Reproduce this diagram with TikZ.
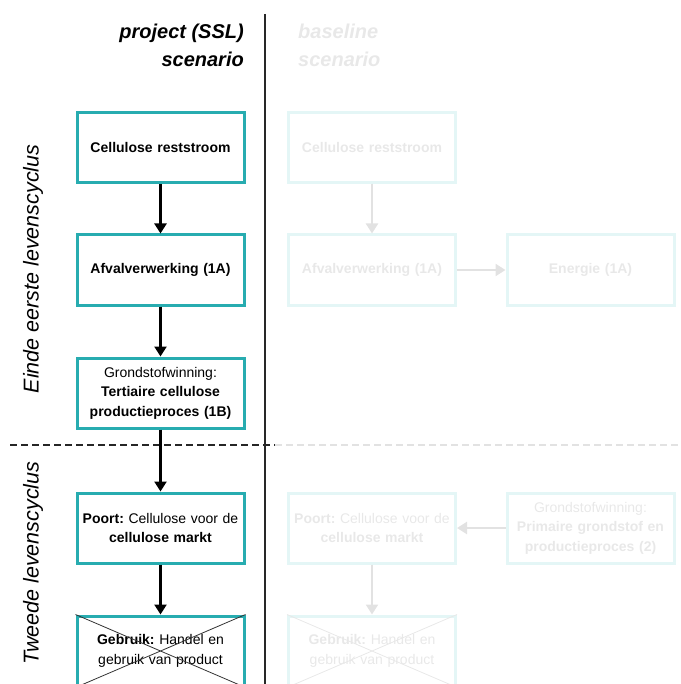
\documentclass[tikz,border=0pt]{standalone}
\usepackage{fontspec}
\setmainfont{Liberation Sans}
\usetikzlibrary{arrows.meta}
\definecolor{teal1}{RGB}{40,172,176}
\definecolor{fadeb}{RGB}{228,246,246}
\definecolor{fadet}{RGB}{232,232,232}
\definecolor{fadea}{RGB}{226,226,226}
\definecolor{divider}{RGB}{40,40,40}
\frenchspacing
\tikzset{
  x=1pt,y=-1pt,
  box/.style={draw=teal1, line width=3pt, minimum width=167pt, minimum height=70pt,
    inner sep=2pt, align=center, text width=162pt, font=\fontsize{14}{19.5}\selectfont},
  fbox/.style={box, draw=fadeb, text=fadet},
  arr/.style={line width=2.3pt, -{Triangle[width=12pt,length=10pt]}},
  farr/.style={arr, draw=fadea, fill=fadea},
  ttl/.style={font=\fontsize{20}{28}\selectfont\bfseries\itshape},
  side/.style={font=\fontsize{21.5}{24}\selectfont\itshape, rotate=90},
}
\begin{document}
\begin{tikzpicture}
\useasboundingbox (0,0) rectangle (680,684);
\begin{scope}
\clip (0,0) rectangle (680,684);
% titles
\node[ttl, anchor=east, align=right, inner sep=0] (t1) at (244,45) {project (SSL)\\scenario};
\node[ttl, anchor=west, align=left, inner sep=0, text=fadet] (t2) at (298,45) {baseline\\scenario};
% side labels
\node[side] (s1) at (33,269) {Einde eerste levenscyclus};
\node[side] (s2) at (33,563) {Tweede levenscyclus};
% divider lines
\coordinate (v1) at (265,14);
\coordinate (v2) at (265,684);
\draw[divider, line width=2pt] (v1) -- (v2);
\coordinate (d1) at (10,445);
\coordinate (d2) at (275,445);
\coordinate (d3) at (680,445);
\draw[dash pattern=on 7pt off 4pt, line width=1.3pt, black!85] (d1) -- (d2);
\draw[dash pattern=on 7pt off 4pt, line width=1.3pt, fadea] (d2) -- (d3);
% left column
\node[box] (a1) at (160.5,147.5) {\bfseries Cellulose reststroom};
\node[box] (a2) at (160.5,270) {\bfseries Afvalverwerking (1A)};
\node[box] (a3) at (160.5,393) {Grondstofwinning:\\\bfseries Tertiaire cellulose\\\bfseries productieproces (1B)};
\node[box] (a4) at (160.5,528) {\textbf{Poort:} Cellulose voor de\\\textbf{cellulose markt}};
\node[box] (a5) at (160.5,651) {\textbf{Gebruik:} Handel en\\gebruik van product};
\draw[black!80, line width=0.8pt] (a5.north west) -- (a5.south east) (a5.north east) -- (a5.south west);
\draw[arr] (a1.south) -- (a2.north);
\draw[arr] (a2.south) -- (a3.north);
\draw[arr] (a3.south) -- (a4.north);
\draw[arr] (a4.south) -- (a5.north);
% right (baseline) column
\node[fbox] (b1) at (372,147.5) {\bfseries Cellulose reststroom};
\node[fbox] (b2) at (372,270) {\bfseries Afvalverwerking (1A)};
\node[fbox] (b3) at (590.5,270) {\bfseries Energie (1A)};
\node[fbox] (b4) at (372,528) {\textbf{Poort:} Cellulose voor de\\\textbf{cellulose markt}};
\node[fbox] (b5) at (590.5,528) {Grondstofwinning:\\\bfseries Primaire grondstof en\\\bfseries productieproces (2)};
\node[fbox] (b6) at (372,651) {\textbf{Gebruik:} Handel en\\gebruik van product};
\draw[fadet, line width=0.8pt] (b6.north west) -- (b6.south east) (b6.north east) -- (b6.south west);
\draw[farr] (b1.south) -- (b2.north);
\draw[farr] (b2.east) -- (b3.west);
\draw[farr] (b5.west) -- (b4.east);
\draw[farr] (b4.south) -- (b6.north);
\end{scope}
\end{tikzpicture}
\end{document}
